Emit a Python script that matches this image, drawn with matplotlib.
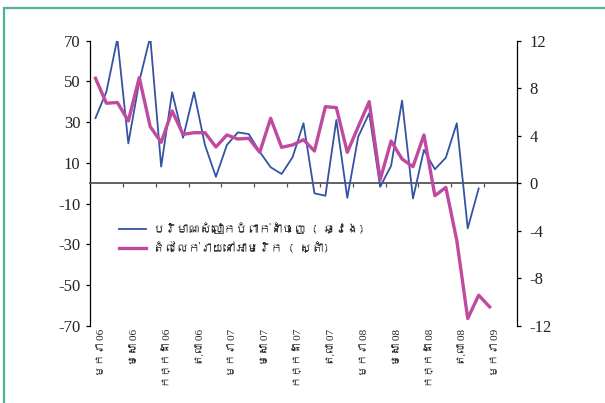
import numpy as np
import matplotlib
matplotlib.use('Agg')
import matplotlib.pyplot as plt
from matplotlib import font_manager
from matplotlib.ft2font import FT2Font
from matplotlib.patches import Rectangle

plt.rcParams['axes.unicode_minus'] = False

# %% data (monthly, Jan 06 ...)
exports = [32, 45, 71, 19.6, 50, 72, 8.2, 44.7, 22.4, 44.7, 18.8, 3.2, 18.8, 25.0,
           24.2, 15.5, 7.9, 4.6, 12.8, 29.5, -4.9, -6.1, 31.1, -7.1, 22.9, 34.4,
           -1.7, 8.6, 40.6, -7.4, 16.4, 6.9, 12.6, 29.5, -22.1, -2.5]
retail = [8.84, 6.74, 6.8, 5.25, 8.9, 4.77, 3.45, 6.09, 4.12, 4.26, 4.26, 3.06, 4.07,
          3.73, 3.79, 2.61, 5.47, 3.03, 3.23, 3.67, 2.72, 6.45, 6.37, 2.61, 4.77,
          6.87, 0.3, 3.56, 2.05, 1.40, 4.07, -1.04, -0.34, -4.8, -11.37, -9.41, -10.39]
n_months = 39
tick_labels = ['មករា 06', 'មេសា 06', 'កក្កដា 06', 'តុលា 06',
               'មករា 07', 'មេសា 07', 'កក្កដា 07', 'តុលា 07',
               'មករា 08', 'មេសា 08', 'កក្កដា 08', 'តុលា 08', 'មករា 09']
left_ticks = [70, 50, 30, 10, -10, -30, -50, -70]
right_ticks = [12, 8, 4, 0, -4, -8, -12]
legend_labels = ['បរិមាណសំលៀកបំពាក់នាំចេញ ( ឆ្វេង)', 'តំលៃលក់រាយនៅអាមេរិក ( ស្តាំ)']

# find a font that has Khmer glyphs
khmer_fonts = []
for f in font_manager.fontManager.ttflist:
    try:
        if 0x1780 in FT2Font(f.fname).get_charmap():
            if f.name not in khmer_fonts:
                khmer_fonts.append(f.name)
    except Exception:
        pass
kfam = khmer_fonts + ['DejaVu Sans']
num_font = 'Liberation Serif'

blue = '#3553a3'
magenta = '#c04a9e'

fig = plt.figure(figsize=(6.05, 4.03), dpi=100)
ax = fig.add_axes([90/605, 1-326/403, 427/605, 285.3/403])
ax2 = ax.twinx()

x1 = np.arange(len(exports))
x2 = np.arange(len(retail))
l1, = ax.plot(x1, exports, color=blue, lw=1.3, zorder=3)
l2, = ax2.plot(x2, retail, color=magenta, lw=2.4, zorder=3)

ax.set_xlim(-0.5, n_months - 0.5)
ax.set_ylim(-70, 70)
ax2.set_ylim(-12, 12)

# axis line at zero with ticks at quarter boundaries
ax.spines['bottom'].set_position(('data', 0))
ax.spines['bottom'].set_color('#555555')
ax.spines['bottom'].set_linewidth(1.3)
ax.spines['top'].set_visible(False)
ax.spines['right'].set_visible(False)
for s in ['top', 'left', 'bottom']:
    ax2.spines[s].set_visible(False)
ax.spines['left'].set_linewidth(0.9)
ax2.spines['right'].set_linewidth(0.9)

ax.set_xticks(np.arange(3, n_months, 3) - 0.5)
ax.tick_params(axis='x', direction='out', length=3, width=0.9, color='#555555',
               labelbottom=False)
ax.set_yticks(left_ticks)
ax.tick_params(axis='y', direction='out', length=3, width=0.9, labelsize=12, pad=4)
ax2.set_yticks(right_ticks)
ax2.tick_params(axis='y', direction='out', length=3, width=0.9, labelsize=12, pad=6)
for lab in ax.get_yticklabels() + ax2.get_yticklabels():
    lab.set_fontfamily(num_font)
    lab.set_color('#222222')

# category labels at the bottom of the plot
for i, lab in enumerate(tick_labels):
    ax.text(3*i + 0.55, -0.01, lab, transform=ax.get_xaxis_transform(),
            rotation=90, ha='center', va='top', fontsize=8,
            family=[num_font] + kfam, color='#222222')

leg = ax.legend([l1, l2], legend_labels, loc='upper left',
                bbox_to_anchor=(0.054, 0.385), frameon=False, handlelength=2.3,
                borderpad=0, labelspacing=0.6, handletextpad=0.6,
                prop={'family': kfam, 'size': 8.5})
for t in leg.get_texts():
    t.set_color('#222222')

# frame around the figure
fig.patches.append(Rectangle((4/605, -0.05), 1.2, 1 - 8/403 + 0.05,
                             transform=fig.transFigure, fill=False,
                             edgecolor='#4fb39b', lw=1.6))

fig.savefig('out.png', dpi=100)
